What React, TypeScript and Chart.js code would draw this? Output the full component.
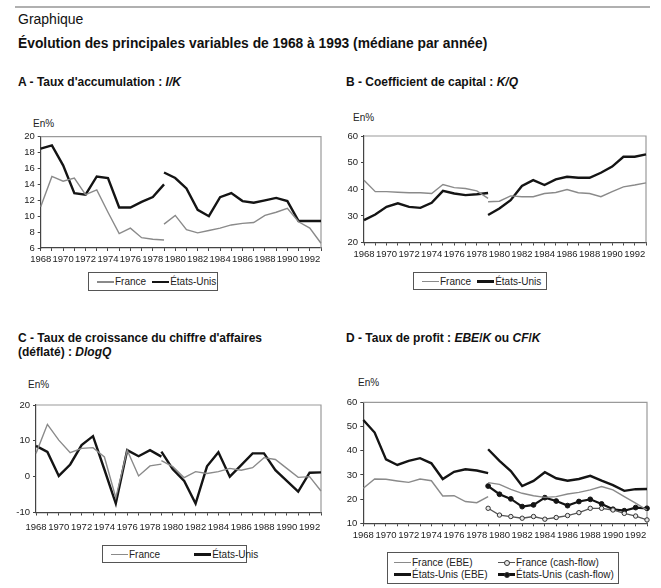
import React, { useEffect, useRef } from "react";
import { Chart, registerables } from "chart.js";

Chart.register(...registerables);

// ---------- DATA ----------
const yearLabels = [
  "1968", "1969", "1970", "1971", "1972", "1973", "1974", "1975", "1976",
  "1977", "1978", "1979", "1980", "1981", "1982", "1983", "1984", "1985",
  "1986", "1987", "1988", "1989", "1990", "1991", "1992", "1993",
];

// A - Taux d'accumulation (1968-1979 / 1979-1993)
const aFrancePre = [11.2, 15.0, 14.4, 14.8, 12.7, 13.3, 10.5, 7.8, 8.5, 7.3, 7.1, 7.0];
const aFrancePost = [9.0, 10.1, 8.3, 7.9, 8.2, 8.5, 8.9, 9.1, 9.2, 10.1, 10.5, 11.0, 9.3, 8.5, 6.6];
const aUSPre = [18.5, 18.9, 16.4, 12.9, 12.7, 15.0, 14.8, 11.1, 11.1, 11.8, 12.4, 14.0];
const aUSPost = [15.5, 14.8, 13.5, 10.8, 10.0, 12.4, 12.9, 11.9, 11.7, 12.0, 12.3, 11.9, 9.4, 9.4, 9.4];

// B - Coefficient de capital
const bFrancePre = [43.4, 39.1, 39.1, 38.9, 38.7, 38.7, 38.4, 41.8, 40.6, 40.3, 39.4, 36.6];
const bFrancePost = [35.3, 35.5, 37.5, 37.2, 37.2, 38.4, 38.8, 39.9, 38.7, 38.4, 37.2, 39.1, 40.9, 41.6, 42.4];
const bUSPre = [28.4, 30.5, 33.4, 34.7, 33.4, 33.0, 34.9, 39.4, 38.4, 37.8, 38.1, 38.6];
const bUSPost = [30.3, 32.8, 35.9, 41.2, 43.4, 41.6, 43.7, 44.7, 44.3, 44.3, 46.2, 48.5, 52.2, 52.2, 53.1];

// C - Taux de croissance du chiffre d'affaires
const cFrancePre = [6.5, 14.6, 10.2, 6.7, 7.9, 8.1, 5.5, -5.9, 7.4, 0.2, 3.0, 3.5];
const cFrancePost = [4.5, 2.8, -0.3, 1.4, 0.9, 1.4, 2.3, 1.8, 2.5, 5.3, 4.8, 2.3, -0.2, 0.0, -4.0];
const cUSPre = [8.6, 6.9, 0.2, 3.4, 8.8, 11.3, 2.0, -7.5, 7.4, 5.7, 7.4, 5.6];
const cUSPost = [7.0, 2.1, -1.2, -7.5, 2.9, 6.8, 0.0, 3.2, 6.5, 6.5, 1.8, -1.2, -4.2, 1.1, 1.2];

// D - Taux de profit
const dFrEbePre = [24.5, 28.3, 28.2, 27.5, 26.9, 28.3, 27.6, 21.3, 21.4, 19.0, 18.5, 21.0];
const dFrEbePost = [26.8, 26.1, 24.0, 22.4, 21.4, 20.7, 21.0, 22.1, 22.8, 23.8, 25.2, 23.8, 21.0, 18.3, 15.5];
const dUsEbePre = [52.7, 47.5, 36.4, 34.1, 35.8, 36.9, 34.8, 28.3, 31.3, 32.3, 31.8, 30.7];
const dUsEbePost = [40.6, 35.8, 31.6, 25.4, 27.5, 31.1, 28.6, 27.6, 28.3, 29.6, 27.6, 25.8, 23.4, 24.1, 24.2];
const dFrCashFlow = [16.2, 13.4, 12.8, 12.1, 12.8, 11.7, 12.4, 13.2, 14.4, 16.2, 16.2, 15.5, 14.1, 13.0, 11.4];
const dUsCashFlow = [25.4, 22.0, 20.1, 16.9, 17.6, 20.6, 19.2, 17.3, 19.0, 19.9, 18.0, 15.8, 15.2, 16.5, 16.2];

// y-axis ticks
const aTicks = [6, 8, 10, 12, 14, 16, 18, 20];
const bTicks = [20, 30, 40, 50, 60];
const cTicks = [-10, 0, 10, 20];
const dTicks = [10, 20, 30, 40, 50, 60];

// ---------- STYLE ----------
const SANS = '"Liberation Sans", Arial, sans-serif';
const GRAY = "#8a8a8a";
const BLACK = "#141414";

const N = yearLabels.length;
const pre = (a: number[]) => [...a, ...Array(N - a.length).fill(null)];
const post = (a: number[]) => [...Array(N - a.length).fill(null), ...a];

const line = (data: (number | null)[], color: string, width: number, extra: any = {}) => ({
  data,
  borderColor: color,
  borderWidth: width,
  pointRadius: 0,
  fill: false,
  tension: 0,
  spanGaps: false,
  ...extra,
});

const thinFr = (d: (number | null)[]) => line(d, GRAY, 1.4);
const thickUs = (d: (number | null)[]) => line(d, BLACK, 2.4);

type Panel = {
  canvas: { x: number; y: number; w: number; h: number };
  area: { l: number; t: number; r: number; b: number };
  ticks: number[];
  xPad: number;
  datasets: any[];
};

const Y_W = 30;
const X_H = 24;

const panels: Panel[] = [
  {
    canvas: { x: 0, y: 128, w: 330, h: 143 },
    area: { l: 40.7, t: 136.7, r: 321, b: 248 },
    ticks: aTicks,
    xPad: 3,
    datasets: [thinFr(pre(aFrancePre)), thinFr(post(aFrancePost)), thickUs(pre(aUSPre)), thickUs(post(aUSPost))],
  },
  {
    canvas: { x: 330, y: 126, w: 331, h: 144 },
    area: { l: 364, t: 136, r: 646, b: 242.5 },
    ticks: bTicks,
    xPad: 3,
    datasets: [thinFr(pre(bFrancePre)), thinFr(post(bFrancePost)), thickUs(pre(bUSPre)), thickUs(post(bUSPost))],
  },
  {
    canvas: { x: 0, y: 395, w: 330, h: 149 },
    area: { l: 36, t: 405, r: 321, b: 512.5 },
    ticks: cTicks,
    xPad: 6,
    datasets: [thinFr(pre(cFrancePre)), thinFr(post(cFrancePost)), thickUs(pre(cUSPre)), thickUs(post(cUSPost))],
  },
  {
    canvas: { x: 330, y: 392, w: 331, h: 158 },
    area: { l: 363.3, t: 402.3, r: 647, b: 523.3 },
    ticks: dTicks,
    xPad: 3,
    datasets: [
      thinFr(pre(dFrEbePre)),
      thinFr(post(dFrEbePost)),
      thickUs(pre(dUsEbePre)),
      thickUs(post(dUsEbePost)),
      line(post(dFrCashFlow), "#555", 1.3, {
        pointRadius: 2.2,
        pointBackgroundColor: "#e8e8e8",
        pointBorderColor: "#333",
        pointBorderWidth: 1,
      }),
      line(post(dUsCashFlow), BLACK, 2.2, {
        pointRadius: 2.4,
        pointBackgroundColor: BLACK,
        pointBorderColor: BLACK,
        pointBorderWidth: 1,
      }),
    ],
  },
];

const TICK_FONT = { family: SANS, size: 9.5 };

const framePlugin = {
  id: "frameTopRight",
  beforeDatasetsDraw(chart: any) {
    const { ctx, chartArea } = chart;
    ctx.save();
    ctx.strokeStyle = "#9a9a9a";
    ctx.lineWidth = 1.2;
    ctx.beginPath();
    ctx.moveTo(chartArea.left, chartArea.top);
    ctx.lineTo(chartArea.right, chartArea.top);
    ctx.lineTo(chartArea.right, chartArea.bottom);
    ctx.stroke();
    ctx.restore();
  },
};

function PanelChart({ p }: { p: Panel }) {
  const ref = useRef<HTMLCanvasElement | null>(null);
  useEffect(() => {
    if (!ref.current) return;
    const { canvas: c, area: a } = p;
    const padding = {
      left: a.l - c.x - Y_W,
      top: a.t - c.y,
      right: c.x + c.w - a.r,
      bottom: c.y + c.h - a.b - X_H,
    };
    const axisCommon = {
      grid: { drawOnChartArea: false, drawTicks: true, tickLength: 3, color: "#444", lineWidth: 1 },
      border: { display: true, color: "#444", width: 1.2 },
    };
    const chart = new Chart(ref.current, {
      type: "line",
      data: { labels: yearLabels, datasets: p.datasets },
      options: {
        animation: false,
        responsive: false,
        maintainAspectRatio: false,
        devicePixelRatio: 1,
        layout: { padding },
        plugins: { legend: { display: false }, tooltip: { enabled: false } },
        scales: {
          x: {
            type: "category",
            offset: false,
            ...axisCommon,
            ticks: {
              autoSkip: false,
              maxRotation: 0,
              minRotation: 0,
              padding: p.xPad,
              color: "#222",
              font: TICK_FONT,
              callback: (_v: any, i: number) => (i % 2 === 0 ? yearLabels[i] : ""),
            },
            afterFit: (s: any) => {
              s.height = X_H;
            },
          },
          y: {
            min: p.ticks[0],
            max: p.ticks[p.ticks.length - 1],
            ...axisCommon,
            ticks: {
              autoSkip: false,
              stepSize: p.ticks[1] - p.ticks[0],
              padding: 3,
              color: "#222",
              font: TICK_FONT,
            },
            afterFit: (s: any) => {
              s.width = Y_W;
            },
          },
        },
      } as any,
      plugins: [framePlugin],
    });
    return () => chart.destroy();
  }, [p]);
  return (
    <canvas
      ref={ref}
      width={p.canvas.w}
      height={p.canvas.h}
      style={{ position: "absolute", left: p.canvas.x, top: p.canvas.y, width: p.canvas.w, height: p.canvas.h }}
    />
  );
}

function Sample({ color, width, marker }: { color: string; width: number; marker?: "hollow" | "filled" }) {
  return (
    <span style={{ position: "relative", display: "inline-block", flexShrink: 0, width: 17, height: 10, marginRight: 1 }}>
      <span
        style={{
          position: "absolute",
          left: 0,
          right: 0,
          top: 5.5 - width / 2,
          height: width,
          background: color,
        }}
      />
      {marker && (
        <span
          style={{
            position: "absolute",
            left: 6,
            top: 3,
            width: 4,
            height: 4,
            borderRadius: "50%",
            border: "1px solid #333",
            background: marker === "filled" ? BLACK : "#e8e8e8",
          }}
        />
      )}
    </span>
  );
}

const legendText: React.CSSProperties = { fontFamily: SANS, fontSize: 10, color: "#222", whiteSpace: "nowrap" };

function Legend2({ x, y, w, h, gap }: { x: number; y: number; w: number; h: number; gap: number }) {
  return (
    <div
      style={{
        position: "absolute",
        left: x,
        top: y,
        width: w,
        height: h,
        boxSizing: "border-box",
        border: "1px solid #555",
        display: "flex",
        alignItems: "center",
        paddingLeft: 8,
        background: "#fff",
        ...legendText,
      }}
    >
      <Sample color={GRAY} width={1.4} />
      <span style={{ marginRight: gap }}>France</span>
      <Sample color={BLACK} width={2.6} />
      <span>États-Unis</span>
    </div>
  );
}

function Text({ x, y, size, bold, children }: { x: number; y: number; size: number; bold?: boolean; children: any }) {
  return (
    <div
      style={{
        position: "absolute",
        left: x,
        top: y - size / 2,
        fontFamily: SANS,
        fontSize: size,
        lineHeight: `${size}px`,
        fontWeight: bold ? "bold" : "normal",
        color: "#111",
        whiteSpace: "nowrap",
      }}
    >
      {children}
    </div>
  );
}

function EnPct({ x, y }: { x: number; y: number }) {
  return (
    <div style={{ position: "absolute", left: x, top: y - 6, ...legendText, fontSize: 10, lineHeight: "12px" }}>
      En%
    </div>
  );
}

export default function App() {
  return (
    <div style={{ position: "absolute", left: 0, top: 0, width: 661, height: 588, background: "#fff", overflow: "hidden" }}>
      <div style={{ position: "absolute", left: 15, top: 6, width: 635, height: 2, background: "#b0b0b0" }} />
      <Text x={18} y={19} size={14}>Graphique</Text>
      <Text x={18} y={44} size={13.8} bold>
        Évolution des principales variables de 1968 à 1993 (médiane par année)
      </Text>
      <Text x={18} y={82} size={12} bold>
        A - Taux d'accumulation : <i>I/K</i>
      </Text>
      <Text x={346} y={82} size={12} bold>
        B - Coefficient de capital : <i>K/Q</i>
      </Text>
      <Text x={18} y={338} size={12} bold>
        C - Taux de croissance du chiffre d'affaires
      </Text>
      <Text x={18} y={352} size={12} bold>
        (déflaté) : <i>DlogQ</i>
      </Text>
      <Text x={346} y={338} size={12} bold>
        D - Taux de profit : <i>EBE</i>/<i>K</i> ou <i>CF</i>/<i>K</i>
      </Text>

      <EnPct x={33} y={124} />
      <EnPct x={353} y={118} />
      <EnPct x={28} y={385} />
      <EnPct x={358} y={383} />

      {panels.map((p, i) => (
        <PanelChart key={i} p={p} />
      ))}

      <Legend2 x={88} y={272} w={130} h={19} gap={6} />
      <Legend2 x={413} y={272} w={134} h={18} gap={6} />
      <Legend2 x={102} y={545} w={145} h={18} gap={34} />

      <div
        style={{
          position: "absolute",
          left: 387,
          top: 552,
          width: 232,
          height: 32,
          boxSizing: "border-box",
          border: "1px solid #555",
          display: "grid",
          gridTemplateColumns: "104px auto",
          alignContent: "center",
          rowGap: 1,
          paddingLeft: 6,
          background: "#fff",
          ...legendText,
        }}
      >
        <span style={{ display: "flex", alignItems: "center" }}>
          <Sample color={GRAY} width={1.4} />
          France (EBE)
        </span>
        <span style={{ display: "flex", alignItems: "center" }}>
          <Sample color="#555" width={1.3} marker="hollow" />
          France (cash-flow)
        </span>
        <span style={{ display: "flex", alignItems: "center" }}>
          <Sample color={BLACK} width={2.6} />
          États-Unis (EBE)
        </span>
        <span style={{ display: "flex", alignItems: "center" }}>
          <Sample color={BLACK} width={2.4} marker="filled" />
          États-Unis (cash-flow)
        </span>
      </div>
    </div>
  );
}
